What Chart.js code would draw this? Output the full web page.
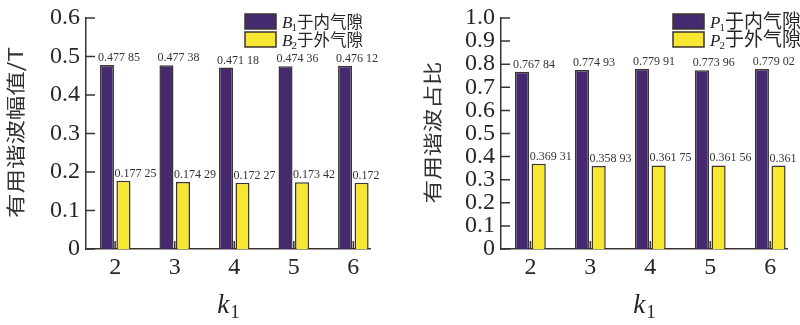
<!DOCTYPE html>
<html>
<head>
<meta charset="utf-8">
<script src="https://cdn.jsdelivr.net/npm/chart.js@4"></script>
<style>
html, body { margin: 0; padding: 0; background: #fff; }
#wrap { position: relative; width: 800px; height: 325px; overflow: hidden; }
canvas { position: absolute; top: 0; }
</style>
</head>
<body>
<div id="wrap">
	<canvas id="left" width="400" height="325" style="left:0"></canvas>
	<canvas id="right" width="400" height="325" style="left:400px"></canvas>
</div>
<script>
// k1 values along the x axis
const k1 = [2, 3, 4, 5, 6]

// left chart: useful harmonic amplitude (T)
const B1 = [0.47785, 0.47738, 0.47118, 0.47436, 0.47612]
const B2 = [0.17725, 0.17429, 0.17227, 0.17342, 0.172]
const leftNames = ['B1于内气隙', 'B2于外气隙']

// right chart: useful harmonic share
const P1 = [0.76784, 0.77493, 0.77991, 0.77396, 0.77902]
const P2 = [0.36931, 0.35893, 0.36175, 0.36156, 0.361]
const rightNames = ['P1于内气隙', 'P2于外气隙']

const serif = '"Liberation Serif", "Times New Roman", serif'
const cjk = '"Noto Sans CJK SC", "Noto Sans", sans-serif'
const ink = '#262626'
const edge = '#3b3430'
const purple = '#452a70'
const yellow = '#f7e632'

Chart.defaults.font.family = serif

// 0.47785 -> "0.477 85"
function fmt(v) {
	var s = String(v)
	var p = s.indexOf('.')
	if (p >= 0 && s.length > p + 4) s = s.slice(0, p + 4) + ' ' + s.slice(p + 4)
	return s
}

const extras = {
	id: 'extras',
	afterDatasetsDraw(chart, args, opts) {
		const ctx = chart.ctx
		const area = chart.chartArea
		const xs = chart.scales.x
		const ys = chart.scales.y
		ctx.save()

		// ticks pointing into the plot
		ctx.strokeStyle = edge
		ctx.lineWidth = 1.5
		ctx.beginPath()
		ys.ticks.forEach(function (t) {
			const py = ys.getPixelForValue(t.value)
			ctx.moveTo(area.left, py)
			ctx.lineTo(area.left + 9, py)
		})
		xs.ticks.forEach(function (t) {
			const px = xs.getPixelForValue(t.value)
			ctx.moveTo(px, area.bottom)
			ctx.lineTo(px, area.bottom - 8)
		})
		ctx.stroke()

		// value labels over the bars
		ctx.font = '12px ' + serif
		ctx.fillStyle = '#333'
		ctx.textAlign = 'left'
		ctx.textBaseline = 'alphabetic'
		chart.data.datasets.forEach(function (ds, d) {
			chart.getDatasetMeta(d).data.forEach(function (bar, i) {
				ctx.fillText(fmt(ds.data[i].y), bar.x - bar.width / 2 - 2, bar.y - 4)
			})
		})

		// legend
		chart.data.datasets.forEach(function (ds, d) {
			const bx = opts.legendX
			const by = 14 + d * 18
			ctx.fillStyle = ds.backgroundColor
			ctx.fillRect(bx, by, 31, 15)
			ctx.strokeStyle = edge
			ctx.lineWidth = 1.5
			ctx.strokeRect(bx, by, 31, 15)
			const name = ds.label
			let tx = bx + 37
			const base = by + 14
			ctx.fillStyle = ink
			ctx.font = 'italic 17px ' + serif
			ctx.fillText(name[0], tx, base)
			tx += ctx.measureText(name[0]).width - 1
			ctx.font = '11px ' + serif
			ctx.fillText(name[1], tx, base + 3)
			tx += ctx.measureText(name[1]).width
			ctx.font = opts.legendSize + 'px ' + cjk
			ctx.fillText(name.slice(2), tx, base)
		})

		// y title, rotated and stretched a bit along the text
		ctx.save()
		ctx.translate(opts.yTitleX, (area.top + area.bottom) / 2 - 1)
		ctx.rotate(-Math.PI / 2)
		ctx.font = '24px ' + cjk
		const w = ctx.measureText(opts.yTitle).width
		ctx.scale(opts.yTitleLen / w, 0.82)
		ctx.fillStyle = '#333'
		ctx.textAlign = 'center'
		ctx.textBaseline = 'middle'
		ctx.fillText(opts.yTitle, 0, 0)
		ctx.restore()

		// x title: k with subscript 1
		ctx.fillStyle = ink
		ctx.textAlign = 'left'
		ctx.font = 'italic 27px ' + serif
		const kw = ctx.measureText('k').width
		ctx.font = '19px ' + serif
		const sw = ctx.measureText('1').width
		const cx = (area.left + area.right) / 2 - (kw + sw) / 2
		ctx.font = 'italic 27px ' + serif
		ctx.fillText('k', cx, 313)
		ctx.font = '19px ' + serif
		ctx.fillText('1', cx + kw + 1, 318)

		ctx.restore()
	},
}

function makeChart(id, names, s1, s2, yMax, opts) {
	return new Chart(document.getElementById(id), {
		type: 'bar',
		data: {
			datasets: [
				{
					label: names[0],
					data: k1.map(function (k, i) { return { x: k, y: s1[i] } }),
					backgroundColor: purple,
					borderColor: edge,
					borderWidth: 1.5,
					categoryPercentage: 0.555,
					barPercentage: 0.85,
				},
				{
					label: names[1],
					data: k1.map(function (k, i) { return { x: k, y: s2[i] } }),
					backgroundColor: yellow,
					borderColor: edge,
					borderWidth: 1.5,
					categoryPercentage: 0.555,
					barPercentage: 0.85,
				},
			],
		},
		options: {
			responsive: false,
			animation: false,
			devicePixelRatio: 1,
			layout: { padding: { top: 13, right: opts.padRight, left: 0, bottom: 0 } },
			scales: {
				x: {
					type: 'linear',
					min: 1.51,
					max: 6.28,
					offset: false,
					grid: { display: false, drawTicks: false },
					border: { display: true, color: edge, width: 1.5 },
					ticks: { font: { family: serif, size: 24 }, color: ink, padding: 4 },
					afterBuildTicks: function (s) { s.ticks = k1.map(function (v) { return { value: v } }) },
					afterFit: function (s) { s.height = 76 },
				},
				y: {
					min: 0,
					max: yMax,
					grid: { display: false, drawTicks: false },
					border: { display: true, color: edge, width: 1.5 },
					ticks: {
						stepSize: 0.1,
						autoSkip: false,
						font: { family: serif, size: 24, lineHeight: 1 },
						color: ink,
						padding: 6,
						callback: function (v) { return v === 0 ? '0' : v.toFixed(1) },
					},
					afterFit: function (s) { s.width = opts.axisX },
				},
			},
			plugins: {
				legend: { display: false },
				tooltip: { enabled: false },
				extras: opts,
			},
		},
		plugins: [extras],
	})
}

makeChart('left', leftNames, B1, B2, 0.6, {
	axisX: 86, padRight: 30, legendX: 245, legendSize: 16.5,
	yTitle: '有用谐波幅值/T', yTitleX: 16, yTitleLen: 171,
})
makeChart('right', rightNames, P1, P2, 1.0, {
	axisX: 101, padRight: 13, legendX: 273, legendSize: 19,
	yTitle: '有用谐波占比', yTitleX: 33, yTitleLen: 142,
})
</script>
</body>
</html>
